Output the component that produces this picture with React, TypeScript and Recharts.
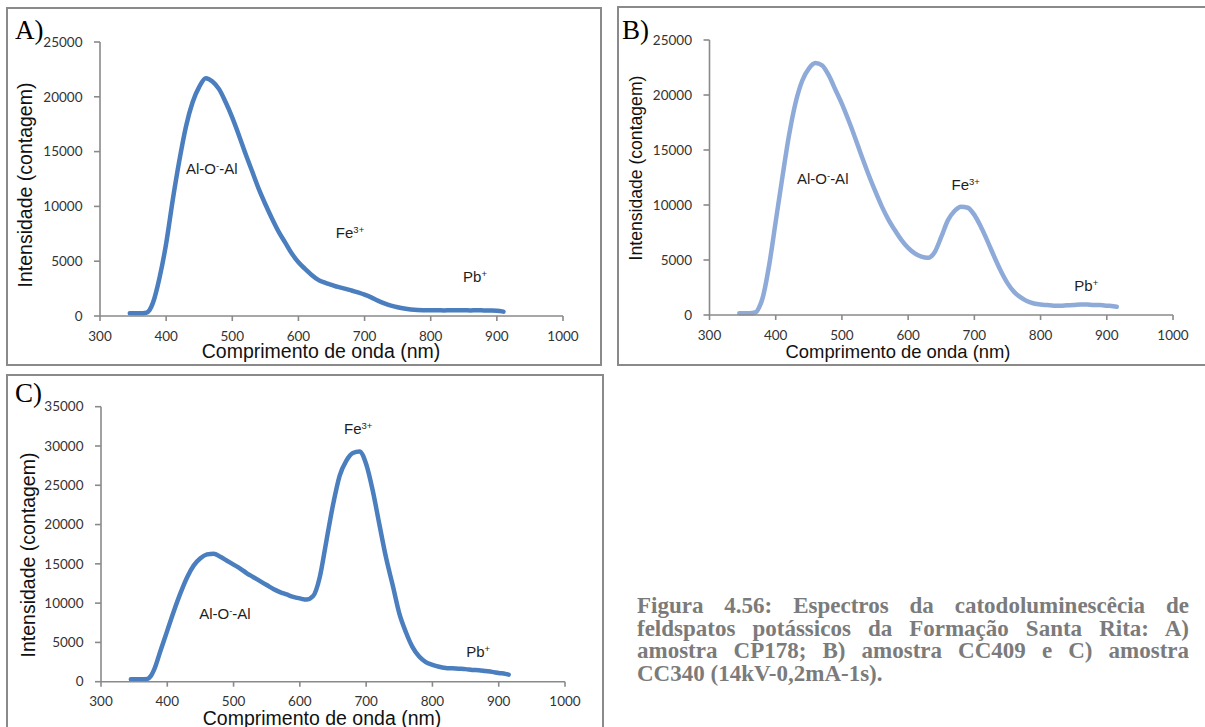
import React from 'react';
import { LineChart, Line, XAxis, YAxis, ReferenceDot } from 'recharts';

// wavelength grid (nm) shared by the three spectra
const wavelengths = [
  345, 350, 360, 370, 375, 380, 390, 400, 410, 420, 430, 440, 450, 460, 470, 480, 490, 500,
  510, 520, 530, 540, 550, 560, 570, 580, 590, 600, 610, 620, 630, 640, 650, 660, 670, 680,
  690, 700, 710, 720, 730, 740, 750, 760, 770, 780, 790, 800, 810, 820, 830, 840, 850, 860,
  870, 880, 890, 900, 910,
];
const wavelengthsLong = [...wavelengths, 915];

// A) amostra CP178
const intensityA = [
  250, 250, 250, 300, 550, 1200, 3500, 6600, 10600, 14200, 17300, 19500, 20900, 21700, 21400,
  20700, 19500, 18100, 16500, 14800, 13200, 11600, 10200, 8900, 7700, 6700, 5700, 4900, 4300,
  3750, 3300, 3050, 2850, 2650, 2500, 2330, 2150, 1950, 1700, 1400, 1150, 950, 800, 680, 600,
  550, 530, 520, 520, 510, 520, 520, 520, 510, 520, 510, 500, 480, 400,
];

// B) amostra CC409
const intensityB = [
  150, 150, 150, 250, 700, 1500, 4500, 8500, 12500, 16300, 19300, 21300, 22400, 22900, 22700,
  21800, 20500, 19200, 17700, 16100, 14400, 12800, 11300, 9900, 8700, 7700, 6800, 6100, 5600,
  5300, 5200, 5700, 7100, 8600, 9450, 9850, 9750, 9100, 8000, 6700, 5300, 4000, 2900, 2100,
  1600, 1250, 1050, 950, 900, 850, 850, 880, 900, 950, 950, 900, 900, 850, 800, 750,
];

// C) amostra CC340
const intensityC = [
  300, 300, 300, 350, 700, 1500, 4000, 6500, 9000, 11300, 13300, 14800, 15700, 16200, 16300,
  15900, 15400, 14900, 14400, 13800, 13300, 12800, 12300, 11800, 11400, 11100, 10800, 10600,
  10450, 10900, 13300, 17900, 22500, 26200, 28100, 29100, 29300, 27700, 24300, 20000, 15800,
  12300, 8700, 6300, 4400, 3200, 2500, 2150, 1900, 1750, 1700, 1650, 1600, 1500, 1450, 1350,
  1250, 1100, 1000, 900,
];

const xTicks = [300, 400, 500, 600, 700, 800, 900, 1000];
const yTicksAB = [0, 5000, 10000, 15000, 20000, 25000];
const yTicksC = [0, 5000, 10000, 15000, 20000, 25000, 30000, 35000];

// peak labels, anchored in data units (nm, counts)
const notesA = [
  { nm: 469, v: 13410, base: 'Al-O', sup: '-', tail: '-Al' },
  { nm: 678, v: 7570, base: 'Fe', sup: '3+', tail: '' },
  { nm: 867, v: 3560, base: 'Pb', sup: '+', tail: '' },
];
const notesB = [
  { nm: 471, v: 12360, base: 'Al-O', sup: '-', tail: '-Al' },
  { nm: 687, v: 11900, base: 'Fe', sup: '3+', tail: '' },
  { nm: 869, v: 2640, base: 'Pb', sup: '+', tail: '' },
];
const notesC = [
  { nm: 487, v: 8620, base: 'Al-O', sup: '-', tail: '-Al' },
  { nm: 688, v: 32160, base: 'Fe', sup: '3+', tail: '' },
  { nm: 869, v: 3780, base: 'Pb', sup: '+', tail: '' },
];

const captionLines = [
  'Figura 4.56: Espectros da catodoluminescêcia de',
  'feldspatos potássicos da Formação Santa Rita: A)',
  'amostra CP178; B) amostra CC409 e C) amostra',
  'CC340 (14kV-0,2mA-1s).',
];

const toRows = (xs: number[], ys: number[]) => xs.map((nm, i) => ({ nm, v: ys[i] }));

const SANS = '"Liberation Sans", Arial, sans-serif';
const SERIF = '"Liberation Serif", "Times New Roman", serif';
const AXIS = '#8a8a8a';

function Note({ cx, cy, note }: any) {
  if (cx == null || cy == null) return null;
  return (
    <text x={cx} y={cy} dy={5.4} textAnchor="middle" fontFamily={SANS} fontSize={15} fill="#1e1e1e">
      {note.base}
      <tspan dy={-5} fontSize={9.5}>{note.sup}</tspan>
      {note.tail ? <tspan dy={5}>{note.tail}</tspan> : null}
    </text>
  );
}

function Spectrum({ rows, color, yMax, yTicks, notes, width, height, margin }: any) {
  const tick = { fill: '#333', fontSize: 13.5, fontFamily: 'Lato, sans-serif' };
  return (
    <LineChart width={width} height={height} data={rows} margin={margin}>
      <XAxis
        dataKey="nm"
        type="number"
        domain={[300, 1000]}
        ticks={xTicks}
        interval={0}
        height={30}
        tickSize={5}
        tickMargin={10}
        axisLine={{ stroke: AXIS, strokeWidth: 1.6 }}
        tickLine={{ stroke: AXIS, strokeWidth: 1.6 }}
        tick={tick}
      />
      <YAxis
        type="number"
        domain={[0, yMax]}
        ticks={yTicks}
        interval={0}
        width={60}
        tickSize={6}
        tickMargin={11.5}
        axisLine={{ stroke: AXIS, strokeWidth: 1.6 }}
        tickLine={{ stroke: AXIS, strokeWidth: 1.6 }}
        tick={tick}
      />
      <Line
        dataKey="v"
        type="monotone"
        stroke={color}
        strokeWidth={4.5}
        strokeLinecap="round"
        dot={false}
        isAnimationActive={false}
      />
      {notes.map((n: any) => (
        <ReferenceDot
          key={n.base + n.nm}
          x={n.nm}
          y={n.v}
          r={0}
          ifOverflow="visible"
          shape={(p: any) => <Note cx={p.cx} cy={p.cy} note={n} />}
        />
      ))}
    </LineChart>
  );
}

const abs = (left: number, top: number): React.CSSProperties => ({ position: 'absolute', left, top });

function XTitle({ cx, cy, size }: any) {
  return (
    <div
      style={{
        ...abs(cx, cy),
        transform: 'translate(-50%, -50%)',
        whiteSpace: 'nowrap',
        fontFamily: SANS,
        fontSize: size,
        lineHeight: 1,
        color: '#111',
      }}
    >
      Comprimento de onda (nm)
    </div>
  );
}

function YTitle({ cx, cy, size }: any) {
  return (
    <div
      style={{
        ...abs(cx, cy),
        transform: 'translate(-50%, -50%) rotate(-90deg)',
        whiteSpace: 'nowrap',
        fontFamily: SANS,
        fontSize: size,
        lineHeight: 1,
        color: '#111',
      }}
    >
      Intensidade (contagem)
    </div>
  );
}

function Letter({ left, top, text }: any) {
  return (
    <div style={{ ...abs(left, top), fontFamily: SERIF, fontSize: 27, lineHeight: 1, color: '#000' }}>
      {text}
    </div>
  );
}

export default function App() {
  const box = (left: number, top: number, width: number, height: number): React.CSSProperties => ({
    ...abs(left, top),
    width,
    height,
    boxSizing: 'border-box',
    border: '2px solid #8a8a8a',
  });

  return (
    <div style={{ position: 'absolute', left: 0, top: 0, width: 1205, height: 727, overflow: 'hidden', background: '#fff' }}>
      {/* panel frames */}
      <div style={box(6, 7, 596, 359)} />
      <div style={box(617, 6, 620, 360)} />
      <div style={box(6, 374, 598, 400)} />

      {/* A */}
      <div style={abs(0, 0)}>
        <Spectrum
          rows={toRows(wavelengths, intensityA)}
          color="#4a7ebe"
          yMax={25000}
          yTicks={yTicksAB}
          notes={notesA}
          width={603}
          height={365}
          margin={{ top: 42, right: 40, left: 40, bottom: 19 }}
        />
      </div>
      <Letter left={15} top={16.5} text="A)" />
      <XTitle cx={321} cy={352} size={19.5} />
      <YTitle cx={26} cy={185} size={19.5} />

      {/* B */}
      <div style={abs(610, 0)}>
        <Spectrum
          rows={toRows(wavelengthsLong, intensityB)}
          color="#8eaad8"
          yMax={25000}
          yTicks={yTicksAB}
          notes={notesB}
          width={595}
          height={365}
          margin={{ top: 40, right: 32, left: 39.5, bottom: 20 }}
        />
      </div>
      <Letter left={622} top={16.5} text="B)" />
      <XTitle cx={898} cy={352} size={18.4} />
      <YTitle cx={637} cy={167.5} size={17.6} />

      {/* C */}
      <div style={abs(0, 370)}>
        <Spectrum
          rows={toRows(wavelengthsLong, intensityC)}
          color="#4a7ebe"
          yMax={35000}
          yTicks={yTicksC}
          notes={notesC}
          width={610}
          height={357}
          margin={{ top: 36.7, right: 45, left: 41, bottom: 15.3 }}
        />
      </div>
      <Letter left={15} top={379.5} text="C)" />
      <XTitle cx={322} cy={719} size={19.5} />
      <YTitle cx={29} cy={555} size={19.5} />

      {/* caption */}
      <div style={{ ...abs(637, 594.8), width: 552, fontFamily: SERIF, fontWeight: 'bold', fontSize: 23, lineHeight: '22.8px', color: '#7b7b7b' }}>
        {captionLines.map((line, i) => (
          <div
            key={i}
            style={{
              textAlign: i < captionLines.length - 1 ? 'justify' : 'left',
              textAlignLast: i < captionLines.length - 1 ? 'justify' : 'left',
              whiteSpace: 'nowrap',
            }}
          >
            {line}
          </div>
        ))}
      </div>
    </div>
  );
}
